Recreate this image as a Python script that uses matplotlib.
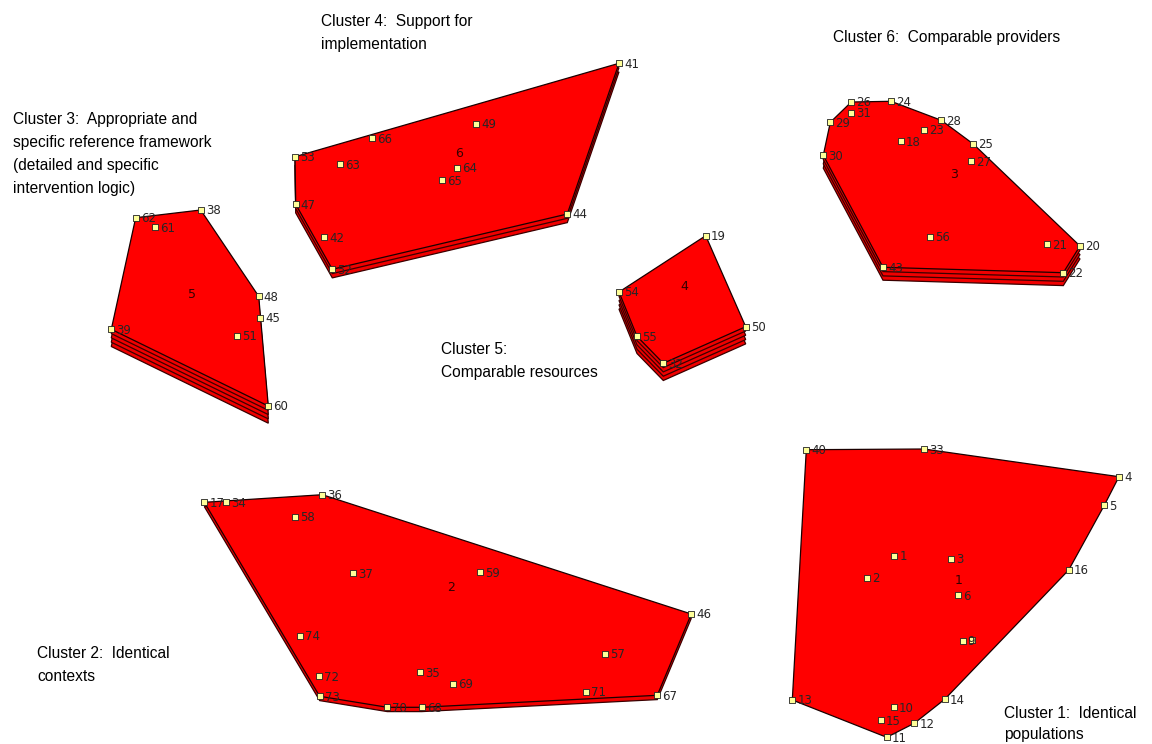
import matplotlib
matplotlib.use("Agg")
import matplotlib.pyplot as plt
from matplotlib.patches import Polygon

# point map coordinates (map units, y grows downward)
c1_ids = [40, 33, 4, 5, 1, 3, 2, 16, 6, 9, 8, 13, 14, 10, 15, 12, 11]
c1_x = [806.3, 924.0, 1119.0, 1104.3, 894.3, 951.3, 866.7, 1068.7, 958.3, 962.7, 971.7, 792.3, 944.7, 893.7, 881.0, 914.3, 886.7]
c1_y = [449.7, 449.0, 476.7, 505.3, 556.0, 558.7, 578.0, 570.0, 595.0, 640.7, 640.3, 700.0, 699.3, 707.0, 720.3, 723.3, 737.3]

c2_ids = [17, 34, 36, 58, 37, 59, 46, 74, 57, 72, 35, 69, 71, 73, 70, 68, 67]
c2_x = [204.3, 226.3, 322.3, 295.0, 353.3, 479.7, 691.3, 299.7, 605.0, 318.7, 420.3, 453.0, 586.3, 319.7, 387.3, 421.7, 657.3]
c2_y = [502.3, 502.3, 494.7, 516.7, 573.3, 572.3, 614.0, 636.0, 654.0, 676.3, 672.3, 684.0, 691.7, 696.3, 707.3, 707.3, 695.3]

c3_ids = [62, 38, 61, 48, 45, 51, 39, 60]
c3_x = [135.7, 200.7, 155.0, 258.7, 260.3, 236.7, 111.3, 268.3]
c3_y = [217.7, 210.0, 227.3, 296.3, 317.7, 336.0, 329.3, 406.0]

c4_ids = [41, 53, 66, 49, 63, 64, 65, 47, 42, 52, 44]
c4_x = [619.0, 295.0, 372.3, 476.0, 340.0, 457.0, 441.7, 295.7, 324.3, 332.3, 567.3]
c4_y = [63.3, 156.7, 138.3, 124.0, 164.3, 168.0, 180.3, 204.3, 237.0, 269.3, 214.0]

c5_ids = [19, 54, 55, 32, 50]
c5_x = [705.7, 619.0, 637.0, 663.3, 745.7]
c5_y = [235.7, 292.0, 336.3, 363.3, 326.7]

c6_ids = [26, 24, 31, 29, 28, 23, 18, 25, 30, 27, 56, 21, 20, 43, 22]
c6_x = [851.3, 891.0, 851.3, 830.3, 941.3, 924.0, 901.0, 973.3, 823.3, 971.3, 930.3, 1046.7, 1080.0, 883.0, 1063.3]
c6_y = [102.0, 101.3, 112.7, 122.3, 120.3, 130.0, 141.3, 144.0, 155.3, 161.0, 236.7, 244.3, 246.0, 267.3, 272.7]

# labels hidden under a neighbouring point in the original map
hidden = [8]

# cluster number shown on map, number of stacked layers (rating), centre label position
map_num = ["1", "2", "5", "6", "4", "3"]
layers = [0, 1, 4, 2, 4, 3]
num_x = [958.3, 451.0, 191.7, 459.0, 684.3, 953.7]
num_y = [580.7, 587.3, 294.3, 153.3, 286.0, 174.0]

titles = ["Cluster 1:  Identical\npopulations",
          "Cluster 2:  Identical\ncontexts",
          "Cluster 3:  Appropriate and\nspecific reference framework\n(detailed and specific\nintervention logic)",
          "Cluster 4:  Support for\nimplementation",
          "Cluster 5:\nComparable resources",
          "Cluster 6:  Comparable providers"]
title_x = [1004, 37, 13, 321, 441, 833]
title_y = [706, 646, 112, 14, 342, 30]
title_ls = [1.5, 1.66, 1.66, 1.66, 1.66, 1.66]

clusters = [(c1_ids, c1_x, c1_y), (c2_ids, c2_x, c2_y), (c3_ids, c3_x, c3_y),
            (c4_ids, c4_x, c4_y), (c5_ids, c5_x, c5_y), (c6_ids, c6_x, c6_y)]


def hull(xs, ys):
    pts = sorted(set(zip(xs, ys)))
    def cross(o, a, b):
        return (a[0]-o[0])*(b[1]-o[1]) - (a[1]-o[1])*(b[0]-o[0])
    lower, upper = [], []
    for p in pts:
        while len(lower) >= 2 and cross(lower[-2], lower[-1], p) <= 0:
            lower.pop()
        lower.append(p)
    for p in reversed(pts):
        while len(upper) >= 2 and cross(upper[-2], upper[-1], p) <= 0:
            upper.pop()
        upper.append(p)
    return lower[:-1] + upper[:-1]


fig = plt.figure(figsize=(11.52, 7.44), dpi=100)
ax = fig.add_axes([0, 0, 1, 1])
ax.set_xlim(0, 1152)
ax.set_ylim(744, 0)
ax.axis("off")

step = 4.3
for (ids, xs, ys), n, lab, lx, ly in zip(clusters, layers, map_num, num_x, num_y):
    h = hull(xs, ys)
    for k in range(n, 0, -1):
        shifted = [(p[0], p[1] + k * step) for p in h]
        ax.add_patch(Polygon(shifted, closed=True, facecolor="#f00000",
                             edgecolor="#3a0000", linewidth=0.9, zorder=1))
    ax.add_patch(Polygon(h, closed=True, facecolor="#ff0000",
                         edgecolor="#1a0000", linewidth=0.9, zorder=2))
    ax.scatter(xs, ys, marker="s", s=18, facecolor="#ffff99",
               edgecolor="#222222", linewidths=0.6, zorder=4)
    for i, x, y in zip(ids, xs, ys):
        if i in hidden:
            continue
        ax.text(x + 5, y + 1, str(i), fontsize=8.5, color="#262626",
                va="center", ha="left", zorder=5, family="DejaVu Sans")
    ax.text(lx, ly, lab, fontsize=9, color="#330000", ha="center",
            va="center", zorder=3, family="DejaVu Sans")

for t, x, y, ls in zip(titles, title_x, title_y, title_ls):
    ax.text(x, y, t, fontsize=11.2, color="black", ha="left", va="top",
            linespacing=ls, family="Liberation Sans")

fig.savefig("out.png", dpi=100)
